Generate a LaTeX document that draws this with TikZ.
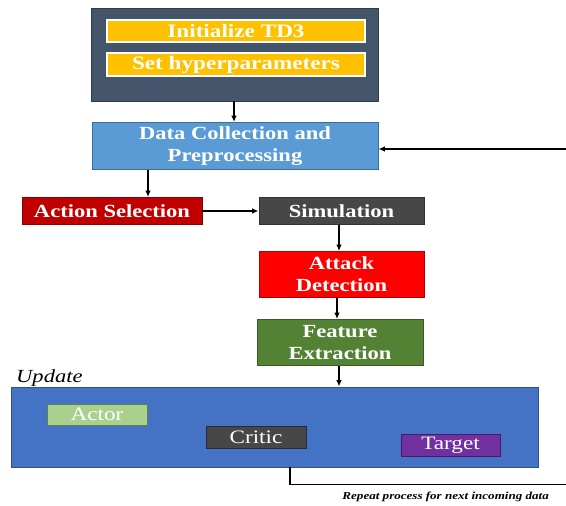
\documentclass[tikz,border=0pt]{standalone}
\usepackage{fontspec}
\setmainfont{Liberation Serif}[FakeStretch=1.22]
\usetikzlibrary{arrows.meta}
\definecolor{slate}{HTML}{44546A}
\definecolor{gold}{HTML}{FFC000}
\definecolor{skyblue}{HTML}{5B9BD5}
\definecolor{darkred}{HTML}{C00000}
\definecolor{charcoal}{HTML}{474747}
\definecolor{brightred}{HTML}{FF0000}
\definecolor{leaf}{HTML}{548235}
\definecolor{royal}{HTML}{4472C4}
\definecolor{mint}{HTML}{A9D18E}
\definecolor{plum}{HTML}{7030A0}
\tikzset{
  box/.style={draw=#1!70!black, line width=0.8pt, fill=#1, text=white,
    font=\bfseries\fontsize{18.5}{22}\selectfont, align=center, inner sep=0pt},
  tag/.style={draw=white, line width=1.2pt, fill=gold, text=white,
    font=\bfseries\fontsize{19}{21}\selectfont, inner sep=0pt},
  small/.style={draw=#1!60!black, line width=0.8pt, fill=#1, text=white,
    font=\fontsize{19}{21}\selectfont, inner sep=0pt},
  link/.style={draw=black, line width=1.3pt, -{Latex[length=6.5pt,width=5.5pt]}},
}
\begin{document}
\begin{tikzpicture}[x=1pt,y=-1pt]
\useasboundingbox (0,0) rectangle (566,506);
% initialisation block
\node[box=slate, minimum width=287, minimum height=93] (init) at (234.5,54.5) {};
\node[tag, minimum width=258, minimum height=22] (td3) at (236,31) {Initialize TD3};
\node[tag, minimum width=258, minimum height=23] (hyp) at (236,64.5) {Set hyperparameters};
% processing chain
\node[box=skyblue, minimum width=286, minimum height=47] (data) at (235,146) {Data Collection and\\Preprocessing};
\node[box=darkred, minimum width=180, minimum height=27] (act) at (112,211) {Action Selection};
\node[box=charcoal, minimum width=165, minimum height=27] (sim) at (341.5,211) {Simulation};
\node[box=brightred, minimum width=165, minimum height=46] (att) at (341.5,274.5) {Attack\\Detection};
\node[box=leaf, minimum width=166, minimum height=46] (feat) at (340,342.5) {Feature\\Extraction};
% update block
\node[box=royal, minimum width=527, minimum height=80] (upd) at (274.5,427) {};
\node[anchor=base west, font=\itshape\fontsize{18.5}{20}\selectfont, inner sep=0pt] (updlbl) at (16,382) {Update};
\node[small=mint, minimum width=100, minimum height=21] (actor) at (97,414.5) {Actor};
\node[small=charcoal, minimum width=100, minimum height=22] (critic) at (256,437) {Critic};
\node[small=plum, minimum width=99, minimum height=22] (target) at (450.5,445) {Target};
% connectors
\draw[link] (init.south -| 234,0) -- (data.north -| 234,0);
\draw[link] (data.south -| 148,0) -- (act.north -| 148,0);
\draw[link] (act.east) -- (sim.west);
\draw[link] (sim.south -| 339,0) -- (att.north -| 339,0);
\draw[link] (att.south -| 337,0) -- (feat.north -| 337,0);
\draw[link] (feat.south -| 339,0) -- (upd.north -| 339,0);
% feedback loop, its vertical run lies just past the right edge
\coordinate (turn) at (290,484.5);
\coordinate (edge) at (580,484.5);
\coordinate (back) at (580,149);
\draw[link] (upd.south -| turn) -- (turn) -- (edge) -- (back) -- (data.east |- back);
\node[anchor=base east, font=\bfseries\itshape\fontsize{10.7}{12}\selectfont, inner sep=0pt] (note) at (549,499) {Repeat process for next incoming data};
\end{tikzpicture}
\end{document}
